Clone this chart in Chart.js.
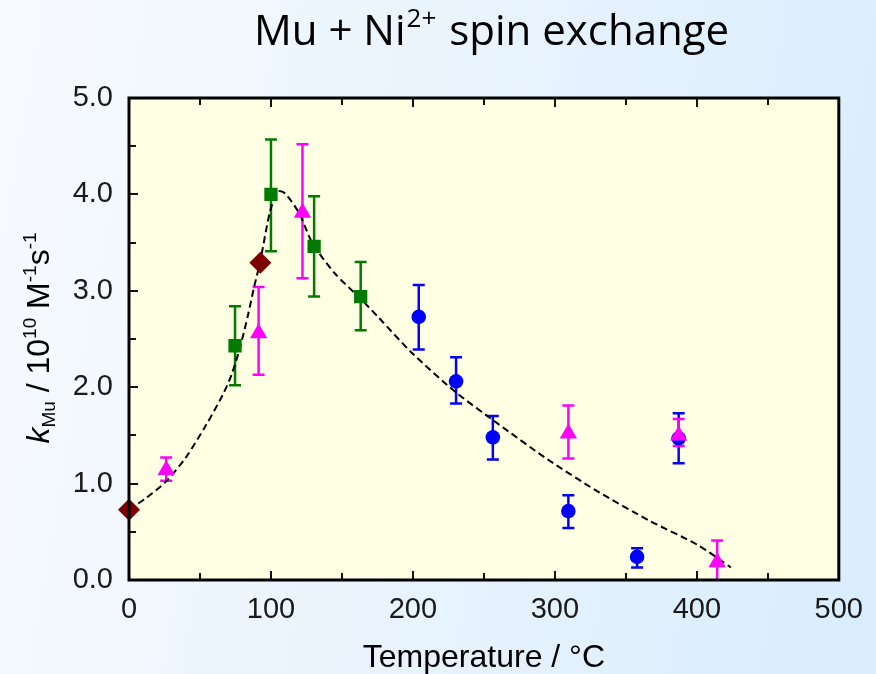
<!DOCTYPE html>
<html>
<head>
<meta charset="utf-8">
<script src="https://cdn.jsdelivr.net/npm/chart.js"></script>
<style>
  html, body { margin: 0; padding: 0; }
  body {
    width: 876px; height: 674px; overflow: hidden;
    background: linear-gradient(100deg, #f8fbfe 0%, #eaf4fd 45%, #d9edfd 100%);
  }
  canvas { display: block; }
</style>
</head>
<body>
<canvas id="chart" width="876" height="674"></canvas>
<script>

// temperature (°C) and k_Mu (10^10 M^-1 s^-1)
const diamondT = [0, 92.5];
const diamondK = [0.73, 3.29];

const squareT  = [74.7, 100, 130.4, 163.2];
const squareK  = [2.43, 4.00, 3.46, 2.94];
const squareHi = [2.84, 4.57, 3.98, 3.30];
const squareLo = [2.02, 3.41, 2.94, 2.59];

const triT  = [26.2, 91.3, 122.2, 309.5, 387.2, 414.3];
const triK  = [1.14, 2.56, 3.81, 1.52, 1.50, 0.185];
const triHi = [1.27, 3.04, 4.52, 1.81, 1.67, 0.41];
const triLo = [1.03, 2.13, 3.13, 1.26, 1.39, -0.05];

const circT  = [204.1, 230.4, 256.3, 309.5, 357.9, 387.2];
const circK  = [2.73, 2.06, 1.48, 0.715, 0.24, 1.47];
const circHi = [3.06, 2.31, 1.70, 0.88, 0.33, 1.73];
const circLo = [2.39, 1.83, 1.25, 0.54, 0.13, 1.21];

// dashed fit curve
const fitT = [0, 12, 26, 40, 54, 66, 72, 78, 84, 88, 92.5, 99, 104.5, 110, 120, 129, 145, 163, 176, 199, 230, 260, 295, 330, 366, 401, 424];
const fitK = [0.73, 0.85, 1.02, 1.27, 1.60, 1.92, 2.12, 2.40, 2.76, 3.03, 3.31, 3.80, 4.03, 4.01, 3.80, 3.50, 3.18, 2.92, 2.72, 2.36, 1.95, 1.62, 1.25, 0.92, 0.62, 0.36, 0.13];

const xTicks = [0, 100, 200, 300, 400, 500];
const yTicks = [0, 1, 2, 3, 4, 5];

function pts(xs, ys, hi, lo) {
  return xs.map((x, i) => ({ x: x, y: ys[i], hi: hi ? hi[i] : null, lo: lo ? lo[i] : null }));
}

const tickFont = { family: '"Liberation Sans", Arial, sans-serif', size: 29 };

const decor = {
  id: 'decor',
  beforeDraw(chart) {
    const { ctx, chartArea: a } = chart;
    ctx.save();
    ctx.fillStyle = '#ffffe4';
    ctx.fillRect(a.left, a.top, a.right - a.left, a.bottom - a.top);
    ctx.restore();
  },
  beforeDatasetsDraw(chart) {
    const { ctx, chartArea: a, scales } = chart;
    ctx.save();
    ctx.beginPath();
    ctx.rect(a.left, a.top, a.right - a.left, a.bottom - a.top);
    ctx.clip();
    ctx.lineWidth = 2.5;
    chart.data.datasets.slice().reverse().forEach(ds => {
      if (!ds.errorBars) return;
      ctx.strokeStyle = ds.borderColor;
      ds.data.forEach(p => {
        const x = scales.x.getPixelForValue(p.x);
        const yh = scales.y.getPixelForValue(p.hi);
        const yl = scales.y.getPixelForValue(p.lo);
        ctx.beginPath();
        ctx.moveTo(x, yh); ctx.lineTo(x, yl);
        ctx.moveTo(x - 6, yh); ctx.lineTo(x + 6, yh);
        ctx.moveTo(x - 6, yl); ctx.lineTo(x + 6, yl);
        ctx.stroke();
      });
    });
    ctx.restore();
  },
  afterDraw(chart) {
    const { ctx, chartArea: a, scales } = chart;
    ctx.save();
    // inward ticks
    ctx.strokeStyle = '#111';
    ctx.lineWidth = 2;
    for (let v = 50; v < 500; v += 50) {
      const x = Math.round(scales.x.getPixelForValue(v));
      const len = v % 100 === 0 ? 9 : 7;
      ctx.beginPath();
      ctx.moveTo(x, a.bottom); ctx.lineTo(x, a.bottom - len);
      ctx.moveTo(x, a.top); ctx.lineTo(x, a.top + len);
      ctx.stroke();
    }
    for (let v = 0.5; v < 5; v += 0.5) {
      const y = Math.round(scales.y.getPixelForValue(v));
      const len = Math.abs(v - Math.round(v)) < 1e-6 ? 9 : 7;
      ctx.beginPath();
      ctx.moveTo(a.left, y); ctx.lineTo(a.left + len, y);
      ctx.stroke();
    }
    // frame
    ctx.lineWidth = 3;
    ctx.strokeStyle = '#000';
    ctx.strokeRect(a.left, a.top, a.right - a.left, a.bottom - a.top);

    // title
    ctx.fillStyle = '#000';
    ctx.textBaseline = 'alphabetic';
    const tf = '"Open Sans", "Noto Sans", sans-serif';
    let x = 254;
    const base = 45;
    ctx.font = '42px ' + tf;
    ctx.fillText('Mu + Ni', x, base); x += ctx.measureText('Mu + Ni').width + 1;
    ctx.font = '26px ' + tf;
    ctx.fillText('2+', x, base - 18); x += ctx.measureText('2+').width + 2;
    ctx.font = '42px ' + tf;
    ctx.fillText(' spin exchange', x, base);

    // x axis title
    ctx.font = '32px "Liberation Sans", Arial, sans-serif';
    ctx.textAlign = 'center';
    ctx.fillText('Temperature / °C', (a.left + a.right) / 2, 667);

    // y axis title (rotated)
    ctx.translate(49, 338);
    ctx.rotate(-Math.PI / 2);
    ctx.textAlign = 'left';
    const af = '"Liberation Sans", Arial, sans-serif';
    const parts = [
      ['italic 32px ' + af, 'k', 0],
      ['19px ' + af, 'Mu', 6],
      ['32px ' + af, ' / 10', 0],
      ['19px ' + af, '10', -13],
      ['32px ' + af, ' M', 0],
      ['19px ' + af, '-1', -13],
      ['32px ' + af, 's', 0],
      ['19px ' + af, '-1', -13]
    ];
    let w = 0;
    parts.forEach(p => { ctx.font = p[0]; w += ctx.measureText(p[1]).width; });
    let px = -w / 2;
    parts.forEach(p => {
      ctx.font = p[0];
      ctx.fillText(p[1], px, p[2]);
      px += ctx.measureText(p[1]).width;
    });
    ctx.restore();
  }
};

new Chart(document.getElementById('chart'), {
  type: 'scatter',
  data: {
    datasets: [
      {
        label: 'diamond',
        data: pts(diamondT, diamondK),
        pointStyle: 'rectRot', pointRadius: 11, clip: false,
        backgroundColor: '#7d0000', borderColor: '#7d0000', borderWidth: 0
      },
      {
        label: 'triangle',
        data: pts(triT, triK, triHi, triLo), errorBars: true,
        pointStyle: 'triangle', pointRadius: 10, clip: false,
        backgroundColor: '#ff00ff', borderColor: '#ff00ff', borderWidth: 0
      },
      {
        label: 'circle',
        data: pts(circT, circK, circHi, circLo), errorBars: true,
        pointStyle: 'circle', pointRadius: 7.3,
        backgroundColor: '#0000ff', borderColor: '#0000ff', borderWidth: 0
      },
      {
        label: 'square',
        data: pts(squareT, squareK, squareHi, squareLo), errorBars: true,
        pointStyle: 'rect', pointRadius: 9.4,
        backgroundColor: '#007a00', borderColor: '#007a00', borderWidth: 0
      },
      {
        label: 'fit',
        type: 'line',
        data: pts(fitT, fitK),
        borderColor: '#000', borderWidth: 2, borderDash: [7, 4],
        pointRadius: 0, tension: 0.25,
        fill: false
      }
    ]
  },
  options: {
    responsive: false,
    animation: false,
    events: [],
    layout: { padding: { left: 0, top: 98, right: 36, bottom: 0 } },
    plugins: { legend: { display: false }, tooltip: { enabled: false } },
    scales: {
      x: {
        type: 'linear', min: 0, max: 500,
        afterBuildTicks: s => { s.ticks = xTicks.map(v => ({ value: v })); },
        afterFit: s => { s.height = 94; },
        grid: { display: false, drawTicks: false },
        border: { display: false },
        ticks: { font: tickFont, color: '#1a1a1a', padding: 13, maxRotation: 0 }
      },
      y: {
        type: 'linear', min: 0, max: 5,
        afterBuildTicks: s => { s.ticks = yTicks.map(v => ({ value: v })); },
        afterFit: s => { s.width = 129; },
        grid: { display: false, drawTicks: false },
        border: { display: false },
        ticks: { font: tickFont, color: '#1a1a1a', padding: 16, callback: v => v.toFixed(1) }
      }
    }
  },
  plugins: [decor]
});
</script>
</body>
</html>
